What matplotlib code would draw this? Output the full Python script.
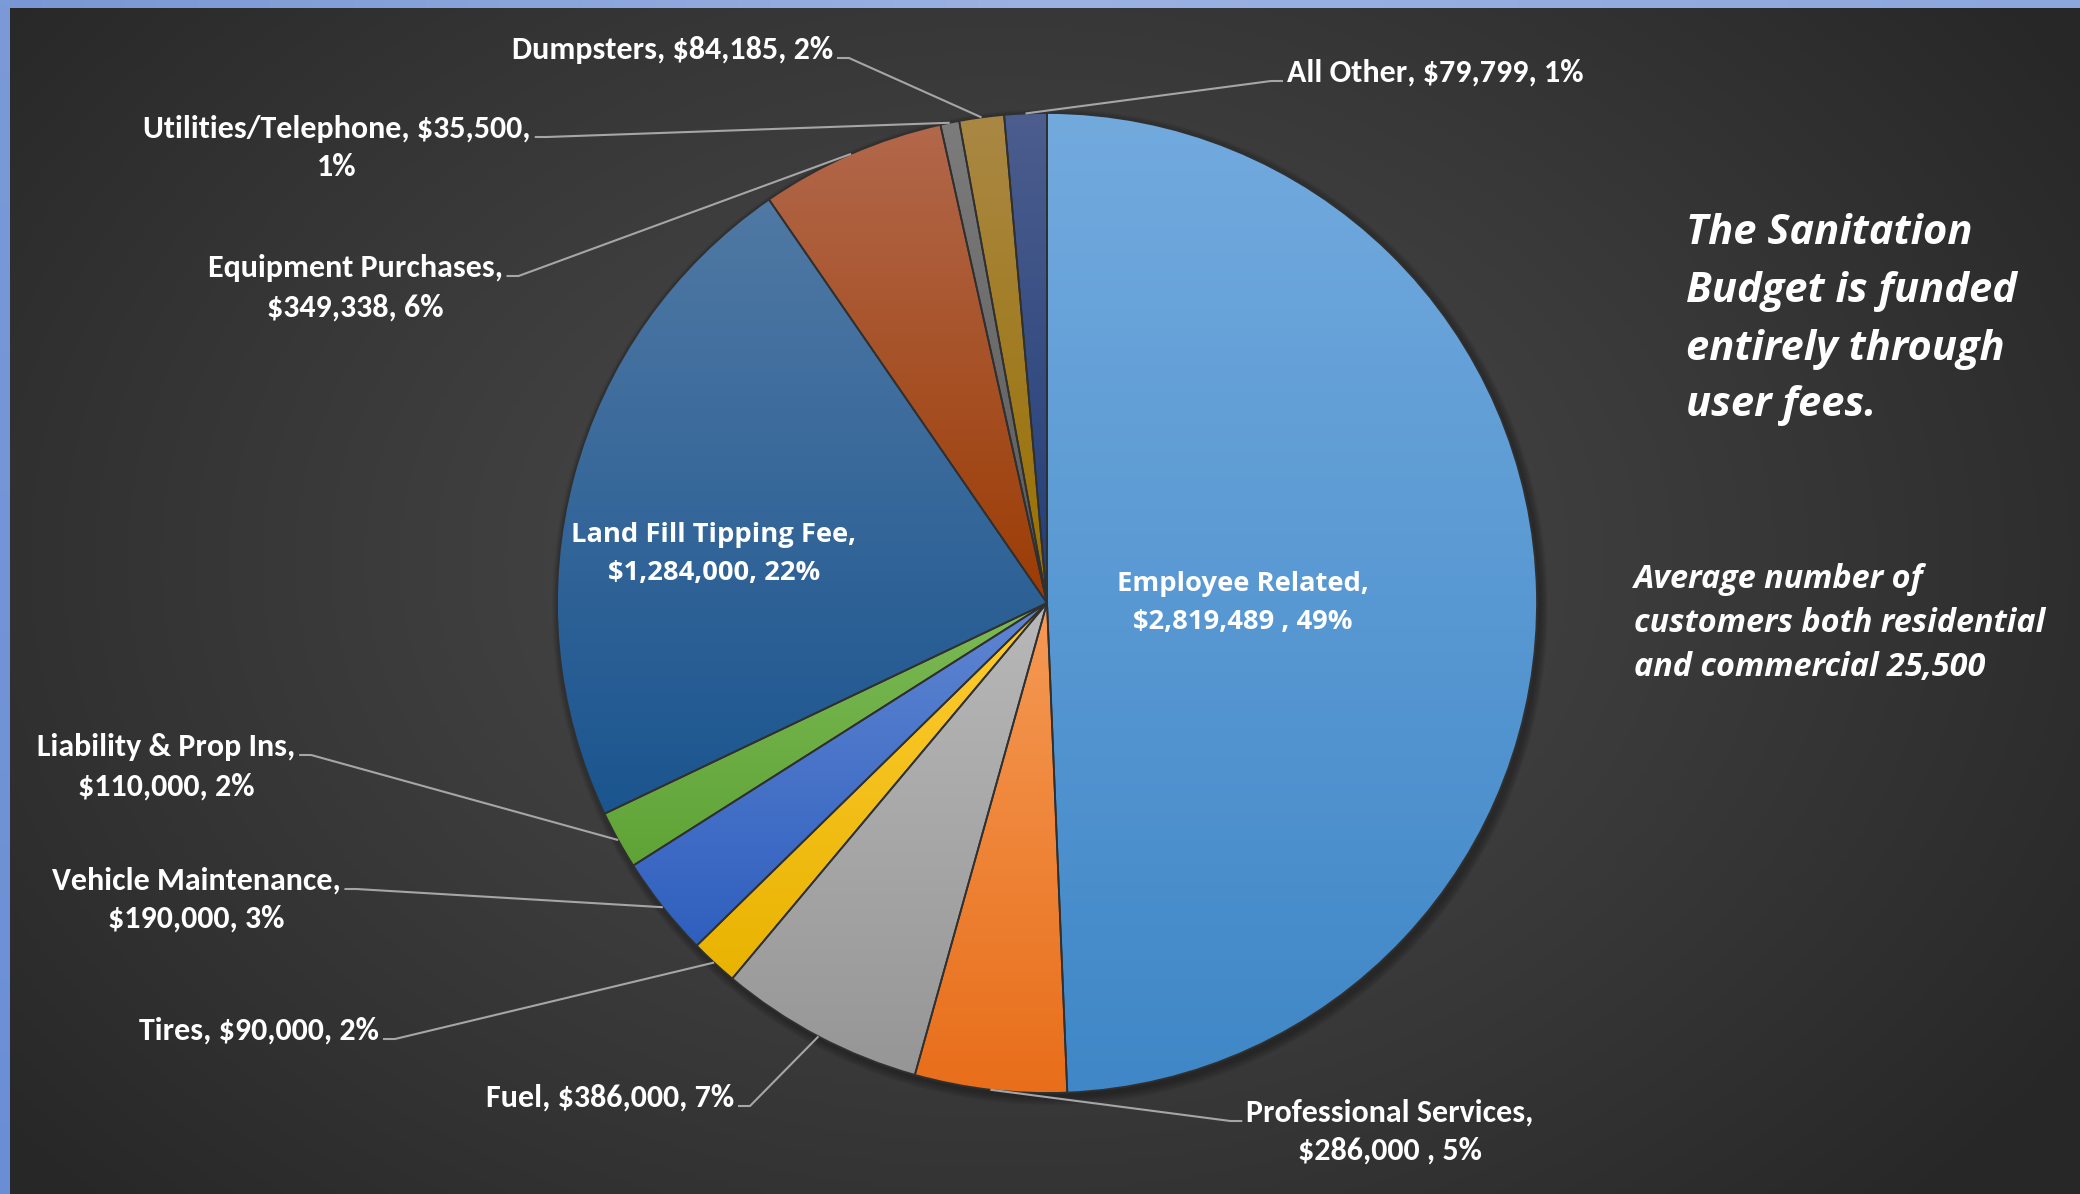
import numpy as np
import matplotlib
matplotlib.use("Agg")
import matplotlib.pyplot as plt
from matplotlib import font_manager
from matplotlib.colors import to_rgb
from matplotlib.patches import PathPatch, Circle

# ---------------- data ----------------
categories = ["Employee Related", "Professional Services", "Fuel", "Tires",
              "Vehicle Maintenance", "Liability & Prop Ins", "Land Fill Tipping Fee",
              "Equipment Purchases", "Utilities/Telephone", "Dumpsters", "All Other"]
values = [2819489, 286000, 386000, 90000, 190000, 110000, 1284000,
          349338, 35500, 84185, 79799]
label_lines = [
    ["Employee Related,", "$2,819,489 , 49%"],
    ["Professional Services,", "$286,000 , 5%"],
    ["Fuel, $386,000, 7%"],
    ["Tires, $90,000, 2%"],
    ["Vehicle Maintenance,", "$190,000, 3%"],
    ["Liability & Prop Ins,", "$110,000, 2%"],
    ["Land Fill Tipping Fee,", "$1,284,000, 22%"],
    ["Equipment Purchases,", "$349,338, 6%"],
    ["Utilities/Telephone, $35,500,", "1%"],
    ["Dumpsters, $84,185, 2%"],
    ["All Other, $79,799, 1%"],
]
note1_lines = ["The Sanitation", "Budget is funded", "entirely through", "user fees."]
note2_lines = ["Average number of", "customers both residential", "and commercial 25,500"]

# (top colour, bottom colour) of each slice's vertical gradient
slice_colors = [("#72aade", "#3f87c7"), ("#f59a55", "#e86e1a"), ("#b8b8b8", "#969696"),
                ("#ffcc33", "#e8b300"), ("#5f86d2", "#2f5fbe"), ("#7cba55", "#5fa336"),
                ("#5079a4", "#1b558f"), ("#b2684b", "#9c3c04"), ("#7c7c7c", "#5a5a5a"),
                ("#aa8844", "#987000"), ("#4c5d8e", "#223f78")]

# ---------------- layout ----------------
W, H = 2080, 1194
fig = plt.figure(figsize=(W / 100, H / 100), dpi=100)
ax = fig.add_axes([0, 0, 1, 1])


def pick(names):
    avail = {f.name for f in font_manager.fontManager.ttflist}
    for n in names:
        if n in avail:
            return n
    return "DejaVu Sans"


label_font = pick(["Carlito", "Lato", "Open Sans"])
label_size = 23 if label_font == "Carlito" else 20.5
inner_font = pick(["Open Sans", "Noto Sans", "DejaVu Sans"])
note_font = pick(["Open Sans", "Noto Sans", "DejaVu Sans"])

# background radial gradient
yy, xx = np.mgrid[0:H:4, 0:W:4]
d = np.sqrt(((xx - 1000) / (W * 0.62)) ** 2 + ((yy - 560) / (H * 0.78)) ** 2)
d = np.clip(d, 0, 1) ** 1.15
c0, c1 = np.array(to_rgb("#4b4b4b")), np.array(to_rgb("#272727"))
bg = c0[None, None, :] * (1 - d[..., None]) + c1[None, None, :] * d[..., None]
ax.imshow(bg, extent=[0, W, 0, H], origin="upper", zorder=0, aspect="auto")

# blue border strips (left and top)
tx = np.linspace(0, 1, 200)
top_c = np.array([np.interp(tx, [0, 0.5, 1], [a, b, c]) for a, b, c in
                  zip(to_rgb("#7897d4"), to_rgb("#9bb2e2"), to_rgb("#8ca7dc"))]).T
ax.imshow(top_c[None, :, :], extent=[0, W, H - 8, H], origin="upper", zorder=1, aspect="auto")
left_c = np.array([np.interp(tx, [0, 1], [a, b]) for a, b in
                   zip(to_rgb("#7b9ad6"), to_rgb("#6a8ed6"))]).T
ax.imshow(left_c[:, None, :], extent=[0, 10, 0, H], origin="upper", zorder=1, aspect="auto")

# ---------------- pie ----------------
cx, cy, R = 1047, H - 603, 490
explode = [0.018] + [0] * (len(values) - 1)

# soft shadow
for k in range(8):
    ax.add_patch(Circle((cx + 3, cy - 4), R + 1 + k, color="black", alpha=0.04, zorder=1.5, lw=0))

wedges, _ = ax.pie(values, startangle=90, counterclock=False, center=(cx, cy), radius=R,
                   explode=explode, colors=[c[1] for c in slice_colors],
                   wedgeprops=dict(linewidth=0, zorder=2))

for w, (ct, cb) in zip(wedges, slice_colors):
    ext = w.get_path().get_extents()
    t = np.linspace(0, 1, 256)[:, None]
    a, b = np.array(to_rgb(ct)), np.array(to_rgb(cb))
    grad = (a[None, :] * (1 - t) + b[None, :] * t)[:, None, :]
    im = ax.imshow(grad, extent=[ext.x0, ext.x1, ext.y0, ext.y1], origin="upper",
                   zorder=2.5, aspect="auto")
    im.set_clip_path(w)
    ax.add_patch(PathPatch(w.get_path(), facecolor="none", edgecolor="#303030",
                           lw=1.3, zorder=3))

ax.set_xlim(0, W)
ax.set_ylim(0, H)
ax.set_aspect("auto")
ax.axis("off")

# ---------------- labels ----------------
# layout: (x, [line y (pixels from top)], ha, leader side or None)
label_layout = [
    (1243, [584, 622], "center", None),
    (1390, [1113, 1151], "center", "left"),
    (734, [1098], "right", "right"),
    (379, [1031], "right", "right"),
    (196, [881, 919], "center", "right"),
    (166, [747, 787], "center", "right"),
    (714, [535, 573], "center", None),
    (355, [268, 308], "center", "right"),
    (337, [129, 167], "center", "right"),
    (833, [50], "right", "right"),
    (1287, [73], "left", "left"),
]

fig.canvas.draw()
renderer = fig.canvas.get_renderer()
inv = ax.transData.inverted()

for w, lines, (lx, lys, ha, side) in zip(wedges, label_lines, label_layout):
    inside = side is None
    texts = []
    for s, ly in zip(lines, lys):
        if inside:
            t = ax.text(lx, H - ly, s, ha=ha, va="center", color="white",
                        fontsize=19.7, fontweight="bold", family=inner_font, zorder=6)
        else:
            t = ax.text(lx, H - ly, s, ha=ha, va="center", color="white",
                        fontsize=label_size, fontweight="bold", family=label_font, zorder=6)
        texts.append(t)
    if inside:
        continue
    bb = texts[0].get_window_extent(renderer)
    (x0, y0), (x1, y1) = inv.transform([[bb.x0, bb.y0], [bb.x1, bb.y1]])
    ystart = H - lys[0] - 8
    if side == "right":
        p0 = (x1 + 4, ystart)
        p1 = (x1 + 16, ystart)
    else:
        p0 = (x0 - 4, ystart)
        p1 = (x0 - 16, ystart)
    th = np.deg2rad((w.theta1 + w.theta2) / 2)
    wc = w.center
    pe = (wc[0] + w.r * np.cos(th), wc[1] + w.r * np.sin(th))
    ax.plot([p0[0], p1[0], pe[0]], [p0[1], p1[1], pe[1]], color="#a6a6a6", lw=1.5,
            zorder=5, solid_capstyle="butt")

# ---------------- side notes ----------------
for s, ly in zip(note1_lines, [234, 291, 349, 406]):
    ax.text(1686, H - ly, s, ha="left", va="center", color="white", fontsize=30,
            fontweight="bold", fontstyle="italic", family=note_font, zorder=6)
for s, ly in zip(note2_lines, [579, 623, 667]):
    ax.text(1634, H - ly, s, ha="left", va="center", color="white", fontsize=23.3,
            fontweight="bold", fontstyle="italic", family=note_font, zorder=6)

fig.savefig("out.png", dpi=100)
